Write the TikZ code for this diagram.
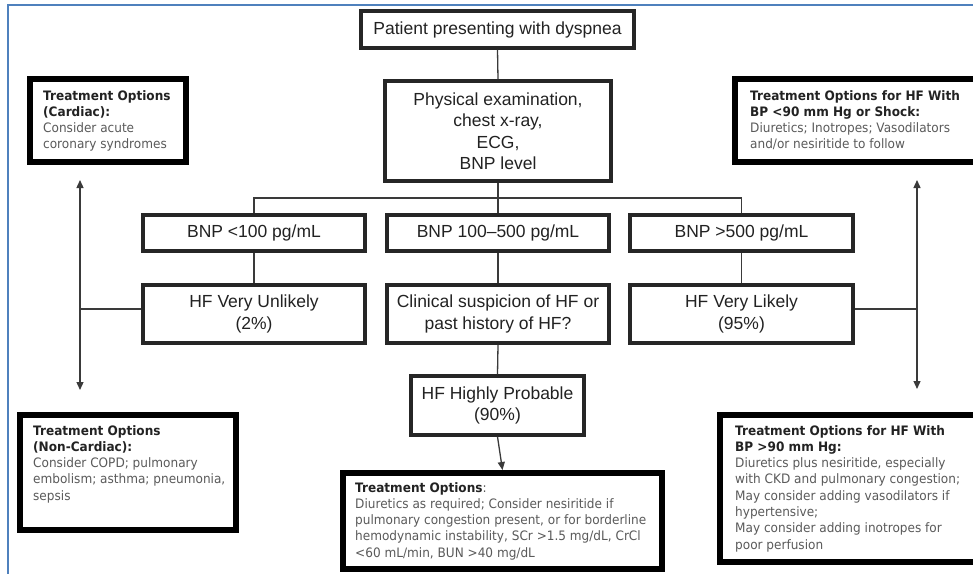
\documentclass[tikz,border=0pt]{standalone}
\usepackage{fontspec}
\setmainfont{Liberation Sans}
\newfontfamily\tfont[FakeStretch=0.93]{DejaVu Sans}
\usetikzlibrary{arrows.meta}
\definecolor{frameblue}{HTML}{4F81BD}
\definecolor{ink}{HTML}{222222}
\definecolor{bodygray}{HTML}{5A5A5A}
\definecolor{linegray}{HTML}{3A3A3A}
\begin{document}
\begin{tikzpicture}[x=1pt,y=-1pt,
  flow/.style={draw=black!85, line width=3.5pt, fill=white, align=center, text=ink,
    font=\fontsize{17.5}{21.5}\selectfont, inner sep=0pt},
  treat/.style={draw=black, line width=6pt, fill=white, inner sep=0pt},
  ttext/.style={anchor=north west, inner sep=0pt, align=left, text=bodygray,
    font=\tfont\fontsize{13}{16.3}\selectfont},
  conn/.style={draw=linegray, line width=1.3pt},
  arr/.style={conn, -{Triangle[length=8pt,width=7pt]}}
]
\useasboundingbox (0,0) rectangle (973,573);
\clip (0,0) rectangle (973,573);
\fill[white] (0,0) rectangle (973,573);
\draw[frameblue, line width=2pt] (8,580) -- (8,5) -- (980,5);

% flow boxes
\node[flow, minimum width=273pt, minimum height=37pt] (top) at (497.5,29.5) {Patient presenting with dyspnea};
\node[flow, minimum width=226pt, minimum height=100pt] (phys) at (498,131) {Physical examination,\\chest x-ray,\\ECG,\\BNP level};
\node[flow, minimum width=222pt, minimum height=36pt] (bnpl) at (254,233) {BNP <100 pg/mL};
\node[flow, minimum width=222pt, minimum height=36pt] (bnpm) at (498,233) {BNP 100–500 pg/mL};
\node[flow, minimum width=223pt, minimum height=36pt] (bnpr) at (741.5,233) {BNP >500 pg/mL};
\node[flow, minimum width=222pt, minimum height=58pt] (hfl) at (254,314) {HF Very Unlikely\\(2\%)};
\node[flow, minimum width=222pt, minimum height=58pt] (clin) at (498,314) {Clinical suspicion of HF or\\past history of HF?};
\node[flow, minimum width=223pt, minimum height=58pt] (hfr) at (741.5,314) {HF Very Likely\\(95\%)};
\node[flow, minimum width=173pt, minimum height=59pt] (hfhp) at (497.5,405.5) {HF Highly Probable\\(90\%)};

% treatment boxes
\node[treat, minimum width=156pt, minimum height=83pt] (card) at (108,120.5) {};
\node[treat, minimum width=245pt, minimum height=83pt] (shock) at (857.5,120.5) {};
\node[treat, minimum width=216pt, minimum height=115pt] (noncard) at (128,472.5) {};
\node[treat, minimum width=260pt, minimum height=147pt] (bp90) at (850,488.5) {};
\node[treat, minimum width=319pt, minimum height=96pt] (mt) at (502.5,521) {};

\node[ttext, xshift=16pt, yshift=-14pt] (cardt) at (card.north west)
  {\textcolor{ink}{\bfseries Treatment Options}\\\textcolor{ink}{\bfseries (Cardiac):}\\Consider acute\\coronary syndromes};
\node[ttext, xshift=18pt, yshift=-14pt] (shockt) at (shock.north west)
  {\textcolor{ink}{\bfseries Treatment Options for HF With}\\\textcolor{ink}{\bfseries BP <90 mm Hg or Shock:}\\Diuretics; Inotropes; Vasodilators\\and/or nesiritide to follow};
\node[ttext, xshift=16pt, yshift=-13pt] (noncardt) at (noncard.north west)
  {\textcolor{ink}{\bfseries Treatment Options}\\\textcolor{ink}{\bfseries (Non-Cardiac):}\\Consider COPD; pulmonary\\embolism; asthma; pneumonia,\\sepsis};
\node[ttext, xshift=18pt, yshift=-13pt] (bp90t) at (bp90.north west)
  {\textcolor{ink}{\bfseries Treatment Options for HF With}\\\textcolor{ink}{\bfseries BP >90 mm Hg:}\\Diuretics plus nesiritide, especially\\with CKD and pulmonary congestion;\\May consider adding vasodilators if\\hypertensive;\\May consider adding inotropes for\\poor perfusion};
\node[ttext, xshift=15pt, yshift=-12pt] (mtt) at (mt.north west)
  {\textcolor{ink}{\bfseries Treatment Options}:\\Diuretics as required; Consider nesiritide if\\pulmonary congestion present, or for borderline\\hemodynamic instability, SCr >1.5 mg/dL, CrCl\\<60 mL/min, BUN >40 mg/dL};

% connectors
\coordinate (split) at (498,198);
\coordinate (jl) at (80,309);
\coordinate (jr) at (917,309);
\coordinate (lup) at (80,180);
\coordinate (ldown) at (80,390);
\coordinate (rup) at (917,180);
\coordinate (rdown) at (917,389);

\draw[conn] (top.south) -- (phys.north);
\draw[conn] (phys.south) -- (split);
\draw[conn] (bnpl.north) -- (bnpl.north |- split) -- (bnpr.north |- split) -- (bnpr.north);
\draw[conn] (split) -- (bnpm.north);
\draw[conn] (bnpl.south) -- (hfl.north);
\draw[conn] (bnpm.south) -- (clin.north);
\draw[conn] (bnpr.south) -- (hfr.north);
\draw[conn] (clin.south) -- (hfhp.north);
\draw[arr] (hfhp.south) -- (mt.north);
\draw[conn] (hfl.west |- jl) -- (jl);
\draw[arr] (jl) -- (lup);
\draw[arr] (jl) -- (ldown);
\draw[conn] (hfr.east |- jr) -- (jr);
\draw[arr] (jr) -- (rup);
\draw[arr] (jr) -- (rdown);
\end{tikzpicture}
\end{document}
